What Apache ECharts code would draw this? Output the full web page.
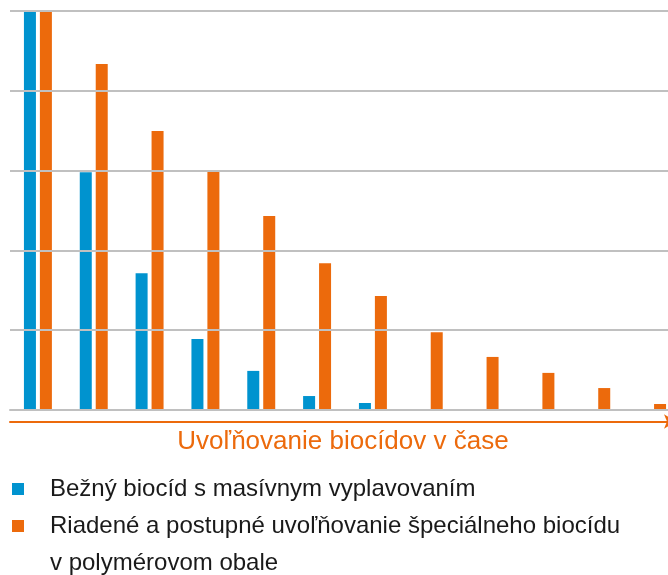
<!DOCTYPE html>
<html>
<head>
<meta charset="utf-8">
<script src="https://cdn.jsdelivr.net/npm/echarts@6/dist/echarts.min.js"></script>
<style>
html,body{margin:0;padding:0;background:#fff;overflow:hidden;width:668px;height:575px;}
#c{width:681px;height:575px;}
</style>
</head>
<body>
<div id="c"></div>
<script>
var categories = ['1','2','3','4','5','6','7','8','9','10','11','12'];
var seriesNames = ['Bežný biocíd s masívnym vyplavovaním', 'Riadené a postupné uvoľňovanie špeciálneho biocídu v polymérovom obale'];
var blueValues = [100, 59.6, 34.3, 17.8, 9.8, 3.5, 1.75, null, null, null, null, null];
var orangeValues = [100, 86.7, 69.9, 59.7, 48.6, 36.8, 28.6, 19.5, 13.3, 9.3, 5.5, 1.5];
var axisTitle = 'Uvoľňovanie biocídov v čase';

var BLUE = '#0093CF';
var ORANGE = '#EC6A0C';
var chart = echarts.init(document.getElementById('c'));
var font = '"Liberation Sans", Arial, Helvetica, sans-serif';

chart.setOption({
  animation: false,
  backgroundColor: '#fff',
  textStyle: {fontFamily: font},
  grid: [
    {left: 10, top: 11, width: 670, height: 399, containLabel: false},
    {left: 10, top: 11, width: 666, height: 399, containLabel: false}
  ],
  xAxis: [
    {
      type: 'category', data: categories, gridIndex: 0, z: 5,
      axisLine: {lineStyle: {color: '#C0C0C0', width: 2}},
      axisTick: {show: false}, axisLabel: {show: false}
    },
    {
      type: 'category', data: categories, gridIndex: 1, offset: 11.5,
      axisLine: {onZero: false, lineStyle: {color: ORANGE, width: 2}, symbol: ['none', 'arrow'], symbolSize: [11, 12]},
      axisTick: {show: false}, axisLabel: {show: false},
      name: axisTitle, nameLocation: 'middle', nameGap: 7,
      nameTextStyle: {color: ORANGE, fontSize: 26, fontFamily: font}
    }
  ],
  yAxis: [
    {
      type: 'value', min: 0, max: 100, interval: 20, gridIndex: 0, z: 5,
      axisLine: {show: false}, axisTick: {show: false}, axisLabel: {show: false},
      splitLine: {lineStyle: {color: '#C0C0C0', width: 2}}
    },
    {
      type: 'value', min: 0, max: 100, gridIndex: 1, show: false
    }
  ],
  legend: [
    {
      data: [seriesNames[0]],
      orient: 'vertical', left: 12, top: 470.5, padding: 0,
      icon: 'rect', itemWidth: 12, itemHeight: 12,
      textStyle: {fontSize: 24, lineHeight: 37, color: '#1a1a1a', padding: [0, 0, 0, 21], fontFamily: font}
    },
    {
      data: [seriesNames[1]],
      orient: 'vertical', left: 12, top: 470.5, padding: 0,
      icon: 'rect', itemWidth: 12, itemHeight: 12,
      formatter: function (n) { return '\n' + n.replace(' v polymérovom', '\nv polymérovom'); },
      textStyle: {fontSize: 24, lineHeight: 37, color: '#1a1a1a', padding: [0, 0, 0, 21], fontFamily: font}
    }
  ],
  series: [
    {
      name: seriesNames[0], type: 'bar', data: blueValues,
      xAxisIndex: 0, yAxisIndex: 0,
      barWidth: 12, barGap: '33%', itemStyle: {color: BLUE}
    },
    {
      name: seriesNames[1], type: 'bar', data: orangeValues,
      xAxisIndex: 0, yAxisIndex: 0,
      barWidth: 12, barGap: '33%', itemStyle: {color: ORANGE}
    }
  ]
});
</script>
</body>
</html>
